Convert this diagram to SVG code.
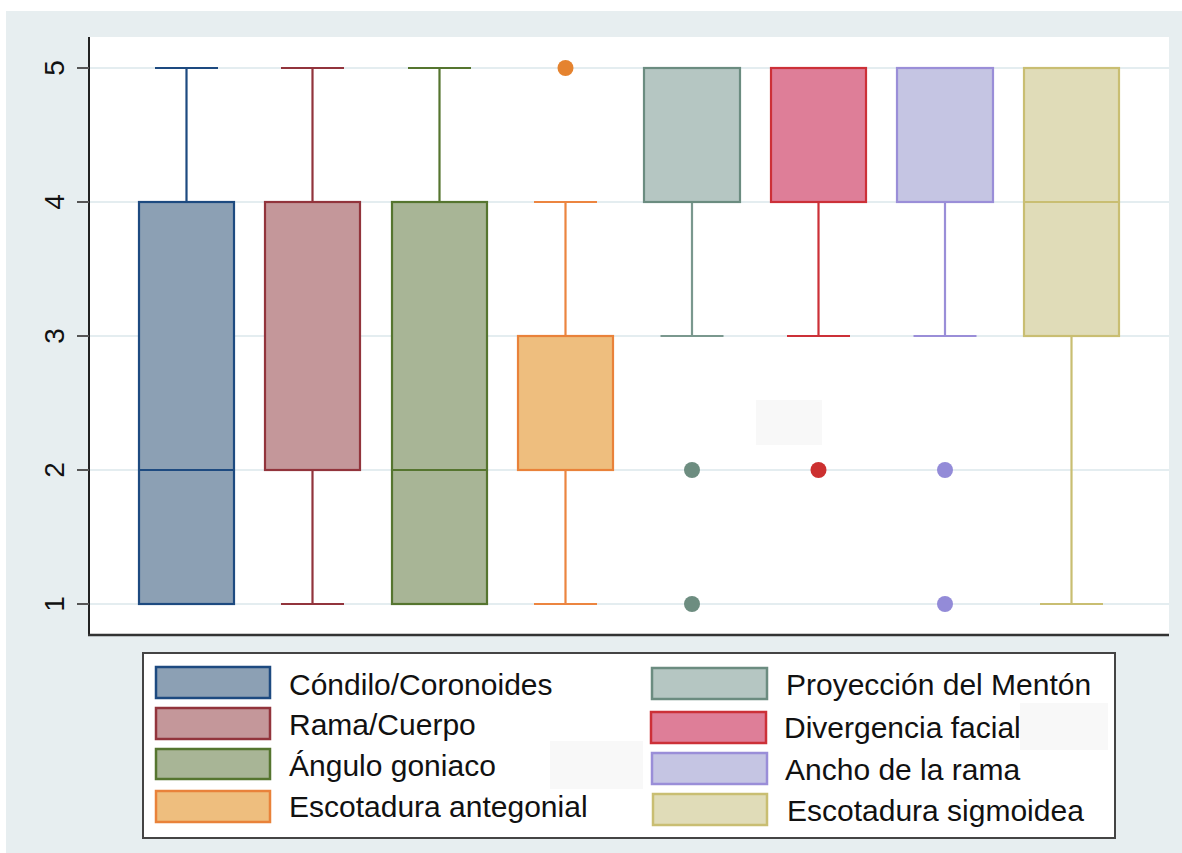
<svg xmlns="http://www.w3.org/2000/svg" width="1182" height="853" viewBox="0 0 1182 853">
<style>
.grid{stroke:#e4edf0;stroke-width:2}
.tick{stroke:#555;stroke-width:2}
.ylab{font-family:"Liberation Sans",Arial,sans-serif;font-size:28px;fill:#111;text-anchor:middle}
.leg{font-family:"Liberation Sans",Arial,sans-serif;font-size:30px;fill:#111}
.bx{stroke-width:2.2}
.wh{stroke-width:2.2;fill:none}
.art{fill:#f8f8f8}
</style>
<rect x="0" y="0" width="1182" height="853" fill="#ffffff"/>
<rect x="6" y="11" width="1176" height="842" fill="#e7eef0"/>
<rect x="89" y="37" width="1080" height="598" fill="#ffffff"/>
<g id="grid">
<line class="grid" x1="89" y1="68" x2="1169" y2="68"/>
<line class="grid" x1="89" y1="202" x2="1169" y2="202"/>
<line class="grid" x1="89" y1="336" x2="1169" y2="336"/>
<line class="grid" x1="89" y1="470" x2="1169" y2="470"/>
<line class="grid" x1="89" y1="604" x2="1169" y2="604"/>
</g>
<rect class="art" x="756" y="400" width="66" height="45"/>
<g id="axes">
<line x1="89" y1="37" x2="89" y2="636" stroke="#222" stroke-width="2"/>
<line x1="88" y1="635" x2="1169" y2="635" stroke="#333" stroke-width="2.5"/>
<line class="tick" x1="77" y1="68" x2="89" y2="68"/>
<line class="tick" x1="77" y1="202" x2="89" y2="202"/>
<line class="tick" x1="77" y1="336" x2="89" y2="336"/>
<line class="tick" x1="77" y1="470" x2="89" y2="470"/>
<line class="tick" x1="77" y1="604" x2="89" y2="604"/>
<text class="ylab" transform="rotate(-90 64 68)" x="64" y="68">5</text>
<text class="ylab" transform="rotate(-90 64 202)" x="64" y="202">4</text>
<text class="ylab" transform="rotate(-90 64 336)" x="64" y="336">3</text>
<text class="ylab" transform="rotate(-90 64 470)" x="64" y="470">2</text>
<text class="ylab" transform="rotate(-90 64 604)" x="64" y="604">1</text>
</g>
<g id="box1" stroke="#1d4a80">
<path class="wh" d="M186.5 202V68M155 68H218"/>
<rect class="bx" x="139" y="202" width="95" height="402" fill="#8ca0b4"/>
<line class="wh" x1="139" y1="470" x2="234" y2="470"/>
</g>
<g id="box2" stroke="#92343c">
<path class="wh" d="M312.5 202V68M281 68H344M312.5 470V604M281 604H344"/>
<rect class="bx" x="265" y="202" width="95" height="268" fill="#c4979a"/>
</g>
<g id="box3" stroke="#55752f">
<path class="wh" d="M439.5 202V68M408 68H471"/>
<rect class="bx" x="392" y="202" width="95" height="402" fill="#a8b596"/>
<line class="wh" x1="392" y1="470" x2="487" y2="470"/>
</g>
<g id="box4" stroke="#ec8540">
<path class="wh" d="M565.5 336V202M534 202H597M565.5 470V604M534 604H597"/>
<rect class="bx" x="518" y="336" width="95" height="134" fill="#eebe7e" stroke="#e9823a"/>
<circle cx="565.5" cy="68" r="8" fill="#e5832f" stroke="none"/>
</g>
<g id="box5" stroke="#6b8c80">
<path class="wh" d="M692 202V336M660.5 336H723.5" stroke="#7a988e"/>
<rect class="bx" x="644" y="68" width="96" height="134" fill="#b5c6c2"/>
<circle cx="692" cy="470" r="8" fill="#6d8d80" stroke="none"/>
<circle cx="692" cy="604" r="8" fill="#6d8d80" stroke="none"/>
</g>
<g id="box6" stroke="#cc3038">
<path class="wh" d="M818.5 202V336M787 336H850"/>
<rect class="bx" x="771" y="68" width="95" height="134" fill="#de7e98"/>
<circle cx="818.5" cy="470" r="8" fill="#cc3030" stroke="none"/>
</g>
<g id="box7" stroke="#9a8ed8">
<path class="wh" d="M945 202V336M913.5 336H976.5"/>
<rect class="bx" x="897" y="68" width="96" height="134" fill="#c5c5e3"/>
<circle cx="945" cy="470" r="8" fill="#938bd8" stroke="none"/>
<circle cx="945" cy="604" r="8" fill="#938bd8" stroke="none"/>
</g>
<g id="box8" stroke="#c9be72">
<path class="wh" d="M1071.5 336V604M1040 604H1103"/>
<rect class="bx" x="1024" y="68" width="95" height="268" fill="#e0dcb8"/>
<line class="wh" x1="1024" y1="202" x2="1119" y2="202"/>
</g>
<g id="legend">
<rect x="143" y="653" width="972" height="185" fill="#ffffff" stroke="#444" stroke-width="2"/>
<rect class="art" x="550" y="741" width="93" height="48"/>
<rect class="art" x="1020" y="703" width="88" height="47"/>
<rect x="156" y="667" width="114" height="31" fill="#8ca0b4" stroke="#1d4a80" stroke-width="2.5"/>
<rect x="156" y="708" width="114" height="31" fill="#c4979a" stroke="#92343c" stroke-width="2.5"/>
<rect x="156" y="749" width="114" height="30" fill="#a8b596" stroke="#55752f" stroke-width="2.5"/>
<rect x="156" y="791" width="114" height="31" fill="#eebe7e" stroke="#e9823a" stroke-width="2.5"/>
<text class="leg" x="289" y="695">Cóndilo/Coronoides</text>
<text class="leg" x="289" y="735">Rama/Cuerpo</text>
<text class="leg" x="289" y="776">Ángulo goniaco</text>
<text class="leg" x="289" y="817">Escotadura antegonial</text>
<rect x="652" y="668" width="115" height="31" fill="#b5c6c2" stroke="#6b8c80" stroke-width="2.5"/>
<rect x="651" y="712" width="115" height="31" fill="#de7e98" stroke="#cc3038" stroke-width="2.5"/>
<rect x="652" y="753" width="115" height="31" fill="#c5c5e3" stroke="#9a8ed8" stroke-width="2.5"/>
<rect x="653" y="794" width="114" height="31" fill="#e0dcb8" stroke="#c9be72" stroke-width="2.5"/>
<text class="leg" x="786" y="695">Proyección del Mentón</text>
<text class="leg" x="784" y="738">Divergencia facial</text>
<text class="leg" x="785" y="780">Ancho de la rama</text>
<text class="leg" x="787" y="821">Escotadura sigmoidea</text>
</g>
</svg>
